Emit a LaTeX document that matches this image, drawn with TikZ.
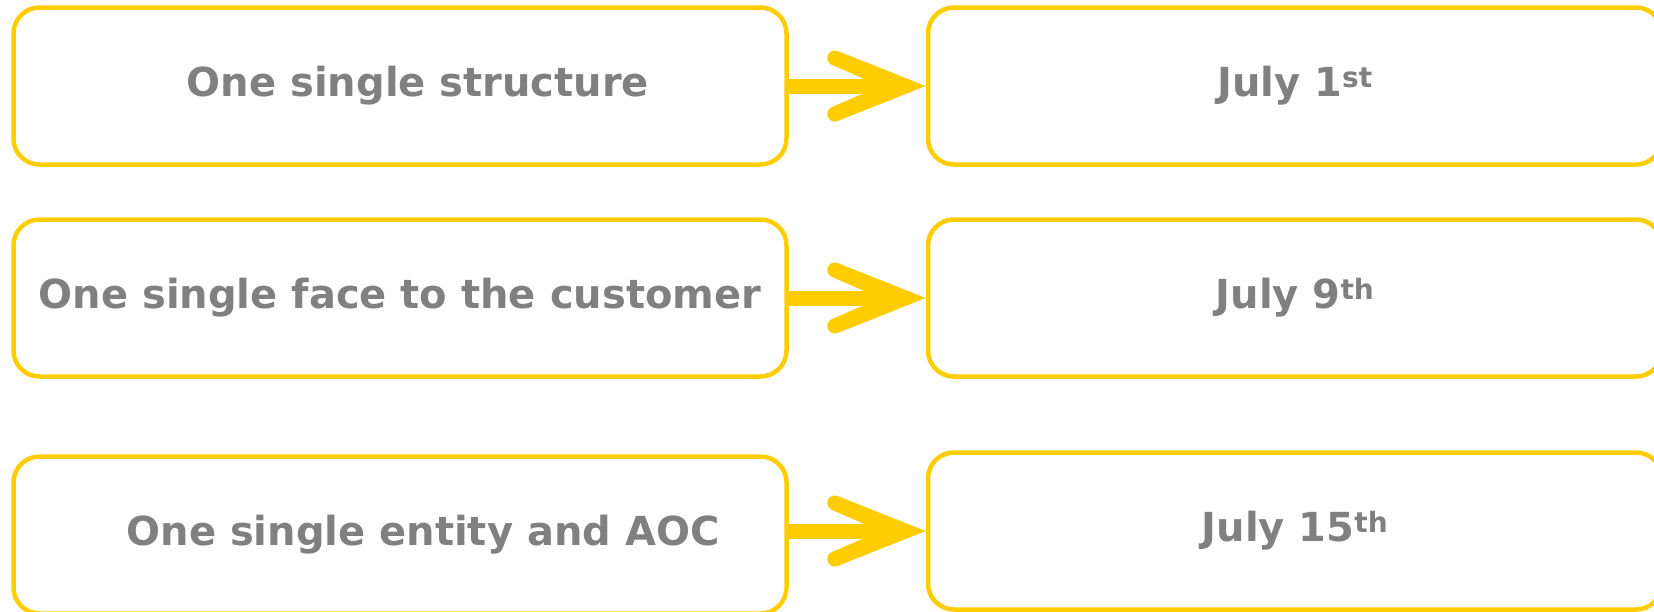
\documentclass[tikz,border=0pt]{standalone}
\usepackage{fontspec}
\setmainfont{DejaVu Sans}
\usepackage{xcolor}
\usetikzlibrary{positioning, calc}
\definecolor{boxyellow}{RGB}{255,204,0}
\definecolor{labelgray}{RGB}{128,128,128}

\begin{document}
\begin{tikzpicture}[
    x=1pt, y=-1pt,
    node distance=137pt,
    font=\bfseries\fontsize{40}{48}\selectfont,
    stage/.style={rectangle, rounded corners=26pt, draw=boxyellow, line width=4.5pt, text=labelgray, minimum height=157pt, inner sep=0pt},
    goalbox/.style={stage, minimum width=773pt},
    datebox/.style={stage, minimum width=734pt},
    shaft/.style={draw=boxyellow, line width=15pt},
    barb/.style={fill=boxyellow}
]
\useasboundingbox (0,0) rectangle (1654,611);

% Nodes
\node (structure) [goalbox] at (400,86) {\hspace*{36pt}One single structure};
\node (face) [goalbox] at (400,298) {One single face to the customer};
\node (entity) [goalbox] at (400,535) {\hspace*{46pt}One single entity and AOC};
\node (july1) [datebox, right=of structure] {July 1\textsuperscript{st}};
\node (july9) [datebox, right=of face] {July 9\textsuperscript{th}};
\node (july15) [datebox, right=of entity, yshift=4pt] {July 15\textsuperscript{th}};

% Connections
\draw [shaft] (structure.east) -- ([xshift=-46pt]july1.west);
\fill [barb, shift={(july1.west)}] (-88.2,-35) -- (0,0) -- (-88.2,35) -- (-93.8,21) -- (-45,0) -- (-93.8,-21) -- cycle
    (-91,-28) circle (7.5) (-91,28) circle (7.5);
\draw [shaft] (face.east) -- ([xshift=-46pt]july9.west);
\fill [barb, shift={(july9.west)}] (-88.2,-35) -- (0,0) -- (-88.2,35) -- (-93.8,21) -- (-45,0) -- (-93.8,-21) -- cycle
    (-91,-28) circle (7.5) (-91,28) circle (7.5);
\draw [shaft] (entity.east |- july15.west) -- ([xshift=-46pt]july15.west);
\fill [barb, shift={(july15.west)}] (-88.2,-35) -- (0,0) -- (-88.2,35) -- (-93.8,21) -- (-45,0) -- (-93.8,-21) -- cycle
    (-91,-28) circle (7.5) (-91,28) circle (7.5);

\end{tikzpicture}
\end{document}
